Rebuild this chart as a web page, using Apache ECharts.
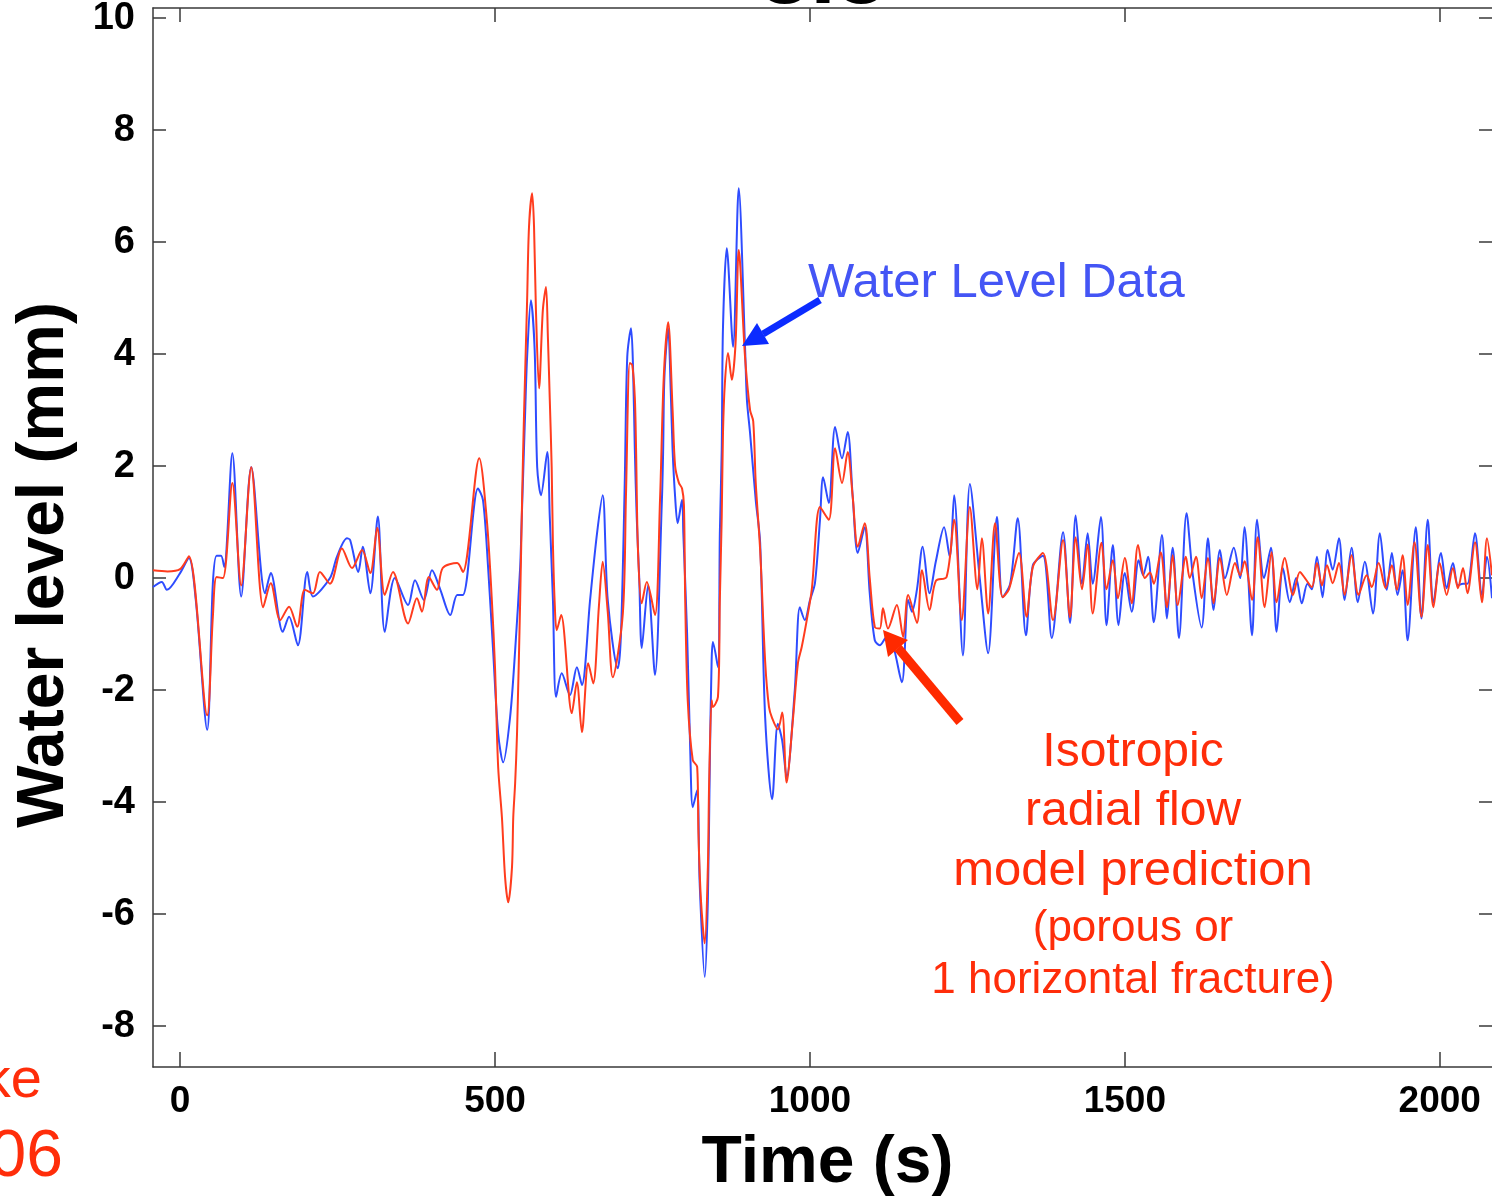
<!DOCTYPE html>
<html>
<head>
<meta charset="utf-8">
<script src="https://cdn.jsdelivr.net/npm/echarts@6/dist/echarts.min.js"></script>
<style>
  html, body { margin: 0; padding: 0; background: #fff; }
  #chart { width: 1492px; height: 1197px; }
</style>
</head>
<body>
<div id="chart"></div>
<script>
const yTicks = [-8, -6, -4, -2, 0, 2, 4, 6, 8, 10];
const xTicks = [0, 500, 1000, 1500, 2000];

// water level data (blue), time in s
const blueTime = [-43, -29, -21, 0, 14, 25, 43, 52, 58, 65, 70, 83, 97, 113, 135, 144, 163, 173, 187, 202,
  211, 238, 249, 265, 270, 283, 290, 302, 314, 325, 341, 362, 373, 387, 400, 413, 429, 440, 449, 473,
  481, 489, 497, 505, 513, 524, 532, 540, 542, 548, 551, 557, 563, 567, 573, 583, 587, 592, 597, 606,
  619, 630, 638, 651, 662, 671, 679, 695, 700, 706, 710, 716, 719, 722, 725, 729, 733, 743, 754, 765,
  767, 769, 775, 779, 782, 786, 790, 797, 799, 805, 810, 814, 821, 825, 833, 838, 841, 844, 846, 854,
  857, 860, 862, 868, 878, 887, 897, 900, 905, 914, 921, 929, 940, 949, 956, 963, 976, 984, 992, 1000,
  1008, 1016, 1021, 1030, 1040, 1051, 1060, 1068, 1076, 1087, 1095, 1103, 1111, 1122, 1132, 1146, 1156, 1162, 1170, 1179,
  1190, 1200, 1213, 1222, 1229, 1243, 1254, 1270, 1283, 1297, 1306, 1318, 1330, 1343, 1354, 1370, 1384, 1402, 1413, 1422,
  1432, 1441, 1449, 1462, 1471, 1481, 1490, 1500, 1511, 1522, 1529, 1537, 1546, 1559, 1567, 1576, 1586, 1598, 1608, 1622,
  1632, 1641, 1651, 1659, 1673, 1683, 1690, 1702, 1710, 1721, 1732, 1741, 1751, 1762, 1772, 1781, 1790, 1797, 1805, 1814,
  1822, 1830, 1840, 1849, 1860, 1870, 1881, 1894, 1905, 1916, 1924, 1933, 1941, 1949, 1962, 1971, 1981, 1990, 2002, 2011,
  2021, 2029, 2037, 2044, 2056, 2067, 2075, 2083];
const blueLevel = [-0.16, -0.07, -0.21, 0.09, 0.36, -0.4, -2.71, -0.1, 0.4, 0.4, 0.2, 2.23, -0.33, 1.98, -0.27, 0.09, -0.96, -0.69, -1.2, 0.11,
  -0.33, 0.0, 0.38, 0.71, 0.68, 0.11, 0.56, -0.27, 1.1, -0.96, 0.0, -0.48, -0.04, -0.39, 0.14, -0.2, -0.66, -0.3, -0.3, 1.6,
  1.39, 0.2, -1.29, -2.77, -3.29, -2.48, -1.29, 0.2, 0.9, 3.0, 3.95, 4.96, 4.07, 1.98, 1.48, 2.25, 1.09, -0.39, -2.12, -1.7,
  -2.09, -1.59, -1.91, -0.39, 0.8, 1.48, -0.39, -1.61, -1.0, 1.7, 3.95, 4.46, 3.84, 2.3, 1.09, 0.0, -1.25, -0.13, -1.73, 1.39,
  2.29, 3.59, 4.46, 3.36, 2.29, 1.45, 0.98, 1.4, 0.8, -0.98, -3.07, -4.09, -3.79, -5.45, -7.12, -5.75, -3.37, -1.46, -1.14, -1.59,
  0.8, 2.29, 4.48, 5.89, 4.13, 6.96, 4.13, 3.18, 2.59, 1.39, 0.63, -2.5, -3.95, -2.6, -2.9, -3.55, -2.0, -0.52, -0.75, -0.4,
  -0.09, 1.04, 1.8, 1.34, 2.7, 2.14, 2.61, 1.45, 0.45, 0.91, -0.27, -1.11, -1.2, -1.05, -1.2, -1.86, -0.39, -0.6, -0.2, 0.56,
  -0.27, 0.3, 0.91, 0.38, 1.48, -1.38, 1.68, -0.04, -1.34, 1.09, -0.34, -0.1, 1.07, -1.02, 0.23, 0.4, -1.07, 0.82, -0.8, 1.12,
  -0.1, 0.8, -0.1, 1.09, -0.84, 0.59, -0.84, 0.09, -0.6, 0.32, 0.05, 0.38, -0.79, 0.77, -0.72, 0.54, -1.07, 1.16, 0.05, -0.88,
  0.71, -0.57, 0.5, 0.0, 0.54, 0.0, 0.91, -1.02, 1.04, 0.0, 0.54, -0.96, 0.18, -0.43, 0.0, -0.45, -0.1, -0.2, 0.38, -0.34,
  0.5, 0.15, 0.71, -0.39, 0.54, -0.43, 0.29, -0.63, 0.8, -0.21, 0.45, -0.3, 0.14, -1.11, 0.91, -0.72, 1.04, -0.43, 0.45, -0.18,
  0.27, -0.13, -0.1, -0.1, 0.8, -0.3, 0.38, -0.36];

// isotropic radial flow model prediction (red)
const redTime = [-43, -20, 0, 14, 43, 52, 58, 68, 83, 97, 113, 132, 144, 159, 173, 186, 198, 211, 222, 238,
  257, 273, 289, 302, 313, 325, 338, 362, 376, 384, 395, 408, 417, 440, 449, 475, 487, 495, 500, 505,
  511, 516, 521, 527, 529, 532, 535, 540, 543, 546, 551, 554, 559, 562, 565, 570, 576, 581, 584, 587,
  590, 592, 595, 598, 605, 622, 630, 638, 648, 656, 665, 671, 679, 687, 703, 708, 714, 718, 722, 724,
  727, 733, 741, 754, 762, 768, 775, 782, 786, 792, 797, 800, 802, 806, 814, 821, 823, 827, 833, 838,
  840, 844, 846, 854, 857, 860, 862, 865, 870, 876, 882, 887, 897, 905, 910, 914, 921, 929, 935, 940,
  949, 956, 963, 973, 981, 987, 995, 1003, 1016, 1030, 1040, 1051, 1060, 1068, 1076, 1087, 1095, 1103, 1111, 1116,
  1124, 1138, 1148, 1156, 1170, 1178, 1190, 1200, 1217, 1229, 1241, 1254, 1266, 1273, 1283, 1294, 1306, 1316, 1332, 1344,
  1354, 1370, 1386, 1402, 1413, 1422, 1432, 1441, 1449, 1463, 1471, 1481, 1489, 1500, 1511, 1521, 1532, 1540, 1546, 1557,
  1567, 1576, 1584, 1597, 1603, 1613, 1622, 1632, 1641, 1651, 1662, 1675, 1683, 1690, 1702, 1711, 1722, 1733, 1741, 1754,
  1767, 1778, 1786, 1797, 1805, 1813, 1821, 1830, 1840, 1849, 1860, 1871, 1884, 1892, 1903, 1914, 1924, 1932, 1941, 1949,
  1960, 1971, 1981, 1990, 2000, 2011, 2021, 2029, 2037, 2044, 2056, 2067, 2075, 2083];
const redLevel = [0.14, 0.12, 0.16, 0.39, -2.45, -0.7, 0.02, 0.0, 1.7, -0.13, 1.98, -0.52, -0.09, -0.75, -0.51, -0.87, -0.21, -0.27, 0.11, -0.1,
  0.53, 0.18, 0.5, 0.09, 0.9, -0.3, 0.11, -0.81, -0.36, -0.6, 0.02, -0.21, 0.18, 0.27, 0.11, 2.14, 1.04, -0.39, -1.59, -3.37,
  -4.27, -5.34, -5.79, -5.16, -4.27, -3.66, -2.77, -0.39, 1.39, 2.88, 4.96, 6.27, 6.87, 6.27, 4.79, 3.39, 4.79, 5.2, 4.3, 3.18,
  1.98, 0.6, -0.5, -0.93, -0.66, -2.41, -1.86, -2.75, -1.52, -1.88, -0.5, 0.29, -0.6, -1.77, -0.63, 1.5, 3.84, 3.8, 3.23, 2.3,
  0.5, -0.45, -0.07, -0.66, 1.39, 3.6, 4.57, 3.0, 2.0, 1.7, 1.6, 1.3, -0.39, -2.18, -3.25, -3.37, -4.55, -5.75, -6.52, -5.16,
  -3.66, -2.18, -2.3, -2.12, -0.39, 1.09, 2.59, 3.48, 4.02, 3.54, 4.2, 5.86, 3.95, 3.0, 2.8, 1.7, 0.5, -1.5, -2.3, -2.5,
  -2.7, -2.4, -3.65, -2.53, -1.52, -1.23, -0.75, -0.2, 1.27, 1.04, 2.32, 1.7, 2.25, 1.45, 0.56, 0.98, 0.0, -0.87, -0.9, -0.54,
  -0.9, -0.48, -1.05, -0.3, -0.8, 0.14, -0.57, -0.05, 0.02, 1.04, -0.75, 1.27, -0.2, 0.71, -0.63, 0.98, -0.34, -0.2, 0.45, -0.69,
  0.2, 0.45, -0.75, 0.68, -0.7, 0.73, -0.2, 0.6, -0.63, 0.63, -0.2, 0.32, -0.36, 0.36, -0.45, 0.59, 0.0, 0.1, -0.1, 0.46,
  -0.52, 0.41, -0.48, 0.38, 0.0, 0.38, -0.36, 0.36, -0.45, 0.36, -0.3, 0.27, 0.05, 0.3, -0.39, 0.73, -0.52, 0.46, -0.43, 0.36,
  -0.3, 0.11, 0.0, -0.16, 0.27, -0.13, 0.23, -0.09, 0.27, -0.3, 0.41, -0.3, 0.05, -0.16, 0.27, -0.18, 0.23, -0.21, 0.41, -0.48,
  0.64, -0.69, 0.59, -0.52, 0.27, -0.3, 0.18, -0.18, 0.18, -0.27, 0.64, -0.43, 0.71, 0.05];

const pair = (t, v) => t.map((x, i) => [x, v[i]]);

const axisFont = { fontFamily: 'Liberation Sans', fontWeight: 'bold', color: '#000' };
const axisLineStyle = { color: '#3a3a3a', width: 1.5 };

let chart = echarts.init(document.getElementById('chart'), null, { renderer: 'canvas' });

const redText = (txt, y, size) => ({
    type: 'text',
    x: 1133,
    y: y,
    style: {
        text: txt,
        fill: '#ff2d0a',
        font: 'normal ' + size + 'px "Liberation Sans"',
        align: 'center',
        verticalAlign: 'middle'
    }
});

chart.setOption({
    animation: false,
    backgroundColor: '#fff',
    grid: {
        left: 153,
        top: 8,
        right: 0,
        bottom: 130,
        outerBoundsMode: 'none'
    },
    xAxis: [
        {
            type: 'value',
            position: 'bottom',
            min: -43,
            max: 2083,
            axisLine: { onZero: false, lineStyle: axisLineStyle },
            axisTick: { inside: true, length: 15, lineStyle: axisLineStyle, customValues: xTicks },
            axisLabel: { ...axisFont, fontSize: 37, margin: 16, customValues: xTicks, formatter: (v) => String(v) },
            splitLine: { show: false },
            name: 'Time (s)',
            nameLocation: 'middle',
            nameGap: 64,
            nameTextStyle: { ...axisFont, fontSize: 66, padding: [0, 0, 0, 10] }
        },
        {
            type: 'value',
            position: 'top',
            min: -43,
            max: 2083,
            axisLine: { onZero: false, lineStyle: axisLineStyle },
            axisTick: { inside: true, length: 14, lineStyle: axisLineStyle, customValues: xTicks },
            axisLabel: { show: false },
            splitLine: { show: false }
        }
    ],
    yAxis: [
        {
            type: 'value',
            position: 'left',
            min: -8.73,
            max: 10.18,
            axisLine: { show: true, onZero: false, lineStyle: axisLineStyle },
            axisTick: { show: true, inside: true, length: 13, lineStyle: axisLineStyle, customValues: yTicks },
            axisLabel: { ...axisFont, fontSize: 38, margin: 18, customValues: yTicks },
            splitLine: { show: false }
        },
        {
            type: 'value',
            position: 'right',
            min: -8.73,
            max: 10.18,
            axisLine: { show: false, onZero: false },
            axisTick: { show: true, inside: true, length: 13, lineStyle: axisLineStyle, customValues: yTicks },
            axisLabel: { show: false },
            splitLine: { show: false }
        }
    ],
    series: [
        {
            name: 'Water Level Data',
            type: 'line',
            data: pair(blueTime, blueLevel),
            showSymbol: false,
            smooth: 0.3,
            lineStyle: { color: '#2e4cff', width: 2 },
            z: 2
        },
        {
            name: 'Isotropic radial flow model prediction',
            type: 'line',
            data: pair(redTime, redLevel),
            showSymbol: false,
            smooth: 0.3,
            lineStyle: { color: '#ff3c1e', width: 2 },
            z: 3
        }
    ],
    graphic: [
        {
            type: 'text',
            x: 823,
            y: -22,
            style: { text: '8.3', fill: '#000', font: 'bold 92px "Liberation Sans"', align: 'center', verticalAlign: 'middle' }
        },
        {
            type: 'text',
            x: 45,
            y: 565,
            rotation: Math.PI / 2,
            style: { text: 'Water level (mm)', fill: '#000', font: 'bold 66px "Liberation Sans"', align: 'center', verticalAlign: 'middle' }
        },
        {
            type: 'text',
            x: 808,
            y: 283,
            style: { text: 'Water Level Data', fill: '#4455f5', font: 'normal 49px "Liberation Sans"', align: 'left', verticalAlign: 'middle' }
        },
        // blue arrow
        { type: 'line', shape: { x1: 820, y1: 300, x2: 763, y2: 334 }, style: { stroke: '#0b2bff', lineWidth: 7 }, z: 10 },
        { type: 'polygon', shape: { points: [[742, 346], [769, 344], [757, 323]] }, style: { fill: '#0b2bff' }, z: 10 },
        // red arrow
        { type: 'line', shape: { x1: 960, y1: 722, x2: 898, y2: 648 }, style: { stroke: '#ff2a00', lineWidth: 9 }, z: 10 },
        { type: 'polygon', shape: { points: [[883, 630], [908, 640], [888, 657]] }, style: { fill: '#ff2a00' }, z: 10 },
        redText('Isotropic', 753, 48),
        redText('radial flow', 812, 48),
        redText('model prediction', 871, 49),
        redText('(porous or', 929, 44),
        redText('1 horizontal fracture)', 981, 44),
        {
            type: 'text',
            x: 42,
            y: 1082,
            style: { text: 'ke', fill: '#ff2d0a', font: 'normal 56px "Liberation Sans"', align: 'right', verticalAlign: 'middle' }
        },
        {
            type: 'text',
            x: 63,
            y: 1158,
            style: { text: '06', fill: '#ff2d0a', font: 'normal 66px "Liberation Sans"', align: 'right', verticalAlign: 'middle' }
        }
    ]
});
</script>
</body>
</html>
